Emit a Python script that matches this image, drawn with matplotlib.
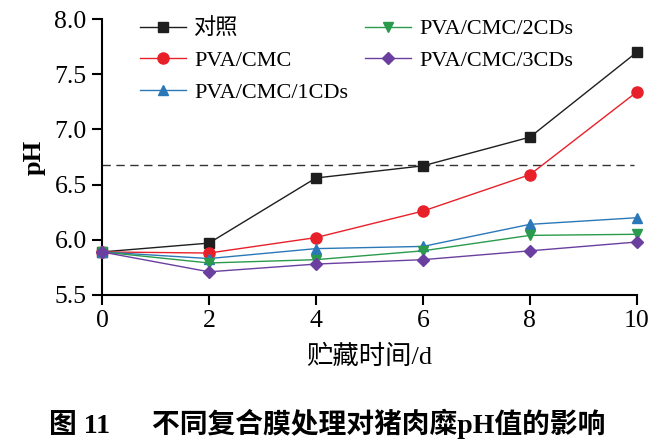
import matplotlib
matplotlib.use("Agg")
import matplotlib.pyplot as plt

days = [0, 2, 4, 6, 8, 10]
ph_ctrl = [5.89, 5.97, 6.56, 6.67, 6.93, 7.70]
ph_pc = [5.89, 5.88, 6.02, 6.26, 6.59, 7.34]
ph_1cd = [5.89, 5.83, 5.92, 5.94, 6.14, 6.20]
ph_2cd = [5.89, 5.79, 5.82, 5.90, 6.04, 6.05]
ph_3cd = [5.89, 5.71, 5.78, 5.82, 5.90, 5.98]
labels = ["对照", "PVA/CMC", "PVA/CMC/1CDs", "PVA/CMC/2CDs", "PVA/CMC/3CDs"]
ref_ph = 6.68

fam = ["Liberation Serif", "Noto Sans CJK SC"]
plt.rcParams['font.family'] = fam

fig = plt.figure(figsize=(6.6, 4.46), dpi=100)
ax = fig.add_axes([0.1545, 0.3386, 0.8105, 0.6187])

series = [ph_ctrl, ph_pc, ph_1cd, ph_2cd, ph_3cd]
colors = ["#1e1e1e", "#e8202a", "#2b78b8", "#2a9a4c", "#6b3fa0"]
markers = ["s", "o", "^", "v", "D"]
msizes = [7.5, 8, 7.5, 7.5, 6]
for y, lab, c, m, ms in zip(series, labels, colors, markers, msizes):
    ax.plot(days, y, color=c, marker=m, ms=ms, lw=1.0, label=lab, clip_on=False, zorder=3)

# reference line
ax.plot([0, 9.95], [ref_ph, ref_ph], ls=(0, (6, 4)), color="#333333", lw=1.0)

ax.set_xlim(0, 10)
ax.set_ylim(5.5, 8.0)
ax.set_xticks(days)
ax.set_yticks([5.5, 6.0, 6.5, 7.0, 7.5, 8.0])
ax.set_yticklabels(["5.5", "6.0", "6.5", "7.0", "7.5", "8.0"])
for s in ["top", "right"]:
    ax.spines[s].set_visible(False)
for s in ["left", "bottom"]:
    ax.spines[s].set_linewidth(1.5)
ax.tick_params(direction="out", length=7, width=1.5, labelsize=18.5, pad=4)

ax.set_xlabel("贮藏时间/d", fontsize=19, labelpad=9)
ax.set_ylabel("pH", fontsize=19, fontweight="bold", labelpad=6)

ax.legend(ncol=2, frameon=False, fontsize=16, loc="upper left",
          bbox_to_anchor=(0.033, 1.075), handlelength=2.1, columnspacing=0.75,
          labelspacing=0.5, handletextpad=0.35)

fig.text(0.495, 0.03, "图 11      不同复合膜处理对猪肉糜pH值的影响", ha="center",
         fontsize=20, fontweight="bold")

fig.savefig("out.png", dpi=100)
